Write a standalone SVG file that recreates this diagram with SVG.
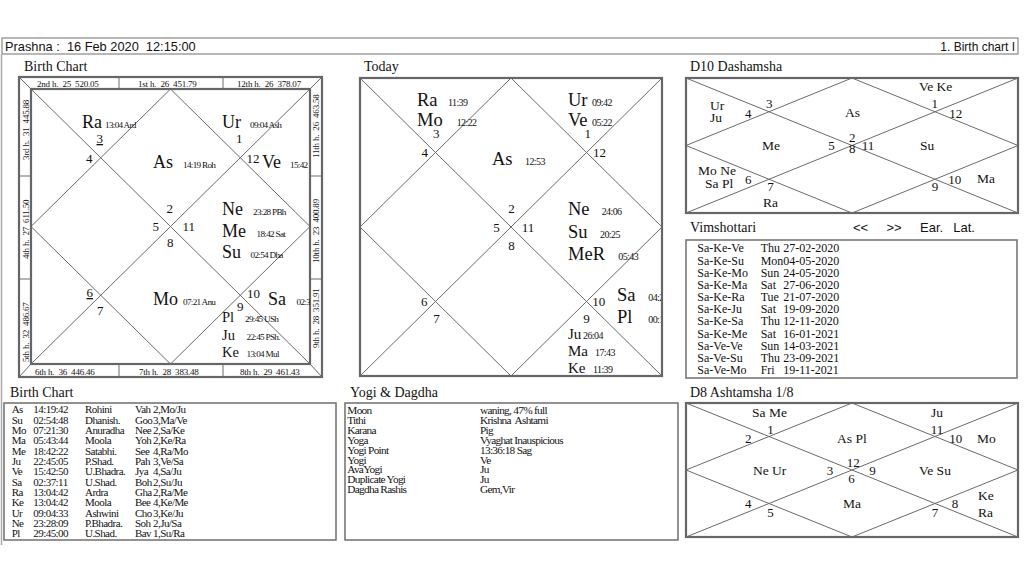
<svg xmlns="http://www.w3.org/2000/svg" width="1024" height="576" viewBox="0 0 1024 576">
<style>
text{font-family:"Liberation Serif","Times New Roman",serif;fill:#111;white-space:pre}
.sans{font-family:"Liberation Sans",Arial,sans-serif}
.title{font-size:14px}
.frame{fill:none;stroke:#666;stroke-width:2.2}
.ln{fill:none;stroke:#6a6a6a;stroke-width:1}
.box{fill:none;stroke:#777;stroke-width:1.6}
.strip{font-size:9px;letter-spacing:-0.2px}
.bp{font-size:18px}
.bpl{font-size:14.5px}
.bs{font-size:9.2px;letter-spacing:-0.7px}
.n{font-size:13px}
.tp{font-size:18.5px}
.tpl{font-size:15px}
.ts{font-size:10px;letter-spacing:-0.6px}
.dp{font-size:13.5px}
.tbl{font-size:11px;letter-spacing:-0.55px}
.yg{font-size:11.3px;letter-spacing:-0.7px}
.vm{font-size:12px}
</style>
<defs>
<clipPath id="cBirth"><rect x="31" y="89" width="279" height="275"/></clipPath>
<clipPath id="cToday"><rect x="360" y="78" width="301" height="298"/></clipPath>
<clipPath id="cTbl"><rect x="4" y="403" width="332" height="137"/></clipPath>
</defs>
<rect width="1024" height="576" fill="#fff"/>

<g id="header">
<rect x="2" y="38" width="1016" height="16" fill="none" stroke="#888" stroke-width="1.2"/>
<line x1="1.5" y1="54" x2="1.5" y2="545" stroke="#aaa" stroke-width="1.5"/>
<text class="sans" x="5" y="50.5" font-size="12.8">Prashna :  16 Feb 2020  12:15:00</text>
<text class="sans" x="1015" y="50.5" font-size="12" text-anchor="end">1. Birth chart I</text>
</g>

<g id="birth-chart">
<text class="title" x="24" y="71">Birth Chart</text>
<rect class="frame" x="19" y="77" width="303" height="300"/>
<rect class="frame" x="31" y="89" width="279" height="275"/>
<g class="ln">
<path d="M19 77L31 89M322 77L310 89M19 377L31 364M322 377L310 364"/>
<path d="M119 77V89M223 77V89M119 364V377M223 364V377M19 176H31M19 279H31M310 176H322M310 279H322"/>
<path d="M31 89L310 364M310 89L31 364M170.5 89L310 226.5L170.5 364L31 226.5Z"/>
</g>
<g class="strip">
<text x="37" y="86.5">2nd h.  25  520.05</text>
<text x="138" y="86.5">1st h.  26  451.79</text>
<text x="237" y="86.5">12th h.  26  378.07</text>
<text x="35" y="374.5">6th h.  36  446.46</text>
<text x="139" y="374.5">7th h.  28  383.48</text>
<text x="240" y="374.5">8th h.  29  461.43</text>
<text transform="translate(28.5,160) rotate(-90)">3rd h.  31  445.88</text>
<text transform="translate(28.5,259) rotate(-90)">4th h.  27  611.50</text>
<text transform="translate(28.5,362) rotate(-90)">5th h.  32  486.67</text>
<text transform="translate(319,158) rotate(-90)">11th h.  26  463.58</text>
<text transform="translate(319,263) rotate(-90)">10th h.  23  400.89</text>
<text transform="translate(319,348) rotate(-90)">9th h.  28  351.91</text>
</g>
<g clip-path="url(#cBirth)">
<text class="bp" x="82" y="128">Ra</text><text class="bs" x="105" y="128">13:04 Ard</text>
<text class="bp" x="222" y="128">Ur</text><text class="bs" x="250" y="128">09:04 Ash</text>
<text class="bp" x="153" y="168">As</text><text class="bs" x="183" y="168">14:19 Roh</text>
<text class="bp" x="262" y="168">Ve</text><text class="bs" x="290" y="168">15:42</text>
<text class="bp" x="222" y="215">Ne</text><text class="bs" x="253" y="215">23:28 PBh</text>
<text class="bp" x="222" y="236.5">Me</text><text class="bs" x="256.5" y="236.5">18:42 Sat</text>
<text class="bp" x="222" y="257.5">Su</text><text class="bs" x="250.5" y="257.5">02:54 Dha</text>
<text class="bp" x="153" y="305">Mo</text><text class="bs" x="183" y="305">07:21 Anu</text>
<text class="bp" x="268" y="305">Sa</text><text class="bs" x="296.5" y="305">02:37</text>
<text class="bpl" x="222" y="322">Pl</text><text class="bs" x="245" y="322">29:45 USh</text>
<text class="bpl" x="222" y="339.5">Ju</text><text class="bs" x="246.5" y="339.5">22:45 PSh.</text>
<text class="bpl" x="222" y="357">Ke</text><text class="bs" x="246.5" y="357">13:04 Mul</text>
<text class="bpl" x="222" y="373.5">Ma</text>
<text class="n" x="96.5" y="143" text-decoration="underline">3</text>
<text class="n" x="236" y="143">1</text>
<text class="n" x="86" y="162.5">4</text>
<text class="n" x="246.5" y="162.5">12</text>
<text class="n" x="166.5" y="213.3">2</text>
<text class="n" x="152.5" y="230.7">5</text>
<text class="n" x="182.5" y="230.7">11</text>
<text class="n" x="167" y="246.7">8</text>
<text class="n" x="86.5" y="297" text-decoration="underline">6</text>
<text class="n" x="97" y="315">7</text>
<text class="n" x="247" y="298">10</text>
<text class="n" x="237" y="311">9</text>
</g>
</g>

<g id="today-chart">
<text class="title" x="364" y="71">Today</text>
<rect class="frame" x="360" y="78" width="302" height="298" stroke-width="2.6"/>
<path class="ln" d="M360 78L662 376M662 78L360 376M511 78L662 227L511 376L360 227Z"/>
<g clip-path="url(#cToday)">
<text class="tp" x="417" y="105.7">Ra</text><text class="ts" x="448" y="105.7">11:39</text>
<text class="tp" x="417" y="125.7">Mo</text><text class="ts" x="456.7" y="125.7">12:22</text>
<text class="tp" x="492" y="165">As</text><text class="ts" x="525" y="165">12:53</text>
<text class="tp" x="568" y="105.7">Ur</text><text class="ts" x="592" y="105.7">09:42</text>
<text class="tp" x="568" y="125.7">Ve</text><text class="ts" x="592" y="125.7">05:22</text>
<text class="tp" x="568" y="215">Ne</text><text class="ts" x="601.7" y="215">24:06</text>
<text class="tp" x="568" y="238.3">Su</text><text class="ts" x="600" y="238.3">20:25</text>
<text class="tp" x="568" y="260">MeR</text><text class="ts" x="618.3" y="260">05:43</text>
<text class="tp" x="617" y="300.7">Sa</text><text class="ts" x="648.3" y="300.7">04:21</text>
<text class="tp" x="617" y="323.3">Pl</text><text class="ts" x="648.3" y="323.3">00:13</text>
<text class="tpl" x="568" y="339.3">Ju</text><text class="ts" x="583" y="339.3">26:04</text>
<text class="tpl" x="568" y="356">Ma</text><text class="ts" x="595" y="356">17:43</text>
<text class="tpl" x="568" y="372.7">Ke</text><text class="ts" x="593" y="372.7">11:39</text>
<text class="n" x="433" y="138.3">3</text>
<text class="n" x="421.5" y="156.7">4</text>
<text class="n" x="584.5" y="138.3">1</text>
<text class="n" x="593" y="157">12</text>
<text class="n" x="508.3" y="212.7">2</text>
<text class="n" x="493.3" y="231.7">5</text>
<text class="n" x="521.7" y="231.7">11</text>
<text class="n" x="508.3" y="250">8</text>
<text class="n" x="421" y="306">6</text>
<text class="n" x="433.3" y="323.3">7</text>
<text class="n" x="592.3" y="306">10</text>
<text class="n" x="583.3" y="323.3">9</text>
</g>
</g>

<g id="d10-chart">
<text class="title" x="690" y="71">D10 Dashamsha</text>
<rect class="frame" x="686" y="78" width="332" height="135"/>
<path class="ln" d="M686 78L1018 213M1018 78L686 213M852 78L1018 145.5L852 213L686 145.5Z"/>
<g class="dp">
<text x="710" y="109.5">Ur</text>
<text x="710" y="121.7">Ju</text>
<text x="845" y="116.7">As</text>
<text x="919" y="91">Ve Ke</text>
<text x="762" y="150.3">Me</text>
<text x="920" y="150.3">Su</text>
<text x="698" y="175.3">Mo Ne</text>
<text x="705" y="188">Sa Pl</text>
<text x="763" y="207">Ra</text>
<text x="977" y="183">Ma</text>
</g>
<g class="n">
<text x="745" y="117.7">4</text>
<text x="766" y="108.3">3</text>
<text x="931.5" y="108.3">1</text>
<text x="949.3" y="117.7">12</text>
<text x="828.3" y="150.3">5</text>
<text x="849" y="141.5">2</text>
<text x="849" y="153">8</text>
<text x="861.7" y="150.3">11</text>
<text x="745" y="184">6</text>
<text x="767.3" y="191">7</text>
<text x="931.7" y="191">9</text>
<text x="948.3" y="184">10</text>
</g>
</g>

<g id="vimshottari">
<text class="title" x="690" y="232">Vimshottari</text>
<text class="sans" x="853" y="232" font-size="13">&lt;&lt;</text>
<text class="sans" x="886.5" y="232" font-size="13">&gt;&gt;</text>
<text class="sans" x="920" y="232" font-size="13">Ear.</text>
<text class="sans" x="953.3" y="232" font-size="13">Lat.</text>
<rect class="box" x="686" y="240" width="331" height="138"/>
<g class="vm">
<text x="697.3" y="252.3">Sa-Ke-Ve</text><text x="760.7" y="252.3">Thu</text><text x="783.3" y="252.3">27-02-2020</text>
<text x="697.3" y="264.5">Sa-Ke-Su</text><text x="760.7" y="264.5">Mon</text><text x="783.3" y="264.5">04-05-2020</text>
<text x="697.3" y="276.6">Sa-Ke-Mo</text><text x="760.7" y="276.6">Sun</text><text x="783.3" y="276.6">24-05-2020</text>
<text x="697.3" y="288.8">Sa-Ke-Ma</text><text x="760.7" y="288.8">Sat</text><text x="783.3" y="288.8">27-06-2020</text>
<text x="697.3" y="301">Sa-Ke-Ra</text><text x="760.7" y="301">Tue</text><text x="783.3" y="301">21-07-2020</text>
<text x="697.3" y="313.2">Sa-Ke-Ju</text><text x="760.7" y="313.2">Sat</text><text x="783.3" y="313.2">19-09-2020</text>
<text x="697.3" y="325.3">Sa-Ke-Sa</text><text x="760.7" y="325.3">Thu</text><text x="783.3" y="325.3">12-11-2020</text>
<text x="697.3" y="337.5">Sa-Ke-Me</text><text x="760.7" y="337.5">Sat</text><text x="783.3" y="337.5">16-01-2021</text>
<text x="697.3" y="349.7">Sa-Ve-Ve</text><text x="760.7" y="349.7">Sun</text><text x="783.3" y="349.7">14-03-2021</text>
<text x="697.3" y="361.8">Sa-Ve-Su</text><text x="760.7" y="361.8">Thu</text><text x="783.3" y="361.8">23-09-2021</text>
<text x="697.3" y="374">Sa-Ve-Mo</text><text x="760.7" y="374">Fri</text><text x="783.3" y="374">19-11-2021</text>
</g>
</g>

<g id="birth-table">
<text class="title" x="10" y="396.7">Birth Chart</text>
<rect class="box" x="4" y="403" width="332" height="137"/>
<g class="tbl" clip-path="url(#cTbl)">
<text x="11.7" y="413.3">As</text><text x="33.3" y="413.3">14:19:42</text><text x="85" y="413.3">Rohini</text><text x="135" y="413.3">Vah</text><text x="153" y="413.3">2,Mo/Ju</text>
<text x="11.7" y="423.6">Su</text><text x="33.3" y="423.6">02:54:48</text><text x="85" y="423.6">Dhanish.</text><text x="135" y="423.6">Goo</text><text x="153" y="423.6">3,Ma/Ve</text>
<text x="11.7" y="434">Mo</text><text x="33.3" y="434">07:21:30</text><text x="85" y="434">Anuradha</text><text x="135" y="434">Nee</text><text x="153" y="434">2,Sa/Ke</text>
<text x="11.7" y="444.3">Ma</text><text x="33.3" y="444.3">05:43:44</text><text x="85" y="444.3">Moola</text><text x="135" y="444.3">Yoh</text><text x="153" y="444.3">2,Ke/Ra</text>
<text x="11.7" y="454.6">Me</text><text x="33.3" y="454.6">18:42:22</text><text x="85" y="454.6">Satabhi.</text><text x="135" y="454.6">See</text><text x="153" y="454.6">4,Ra/Mo</text>
<text x="11.7" y="465">Ju</text><text x="33.3" y="465">22:45:05</text><text x="85" y="465">P.Shad.</text><text x="135" y="465">Pah</text><text x="153" y="465">3,Ve/Sa</text>
<text x="11.7" y="475.3">Ve</text><text x="33.3" y="475.3">15:42:50</text><text x="85" y="475.3">U.Bhadra.</text><text x="135" y="475.3">Jya</text><text x="153" y="475.3">4,Sa/Ju</text>
<text x="11.7" y="485.6">Sa</text><text x="33.3" y="485.6">02:37:11</text><text x="85" y="485.6">U.Shad.</text><text x="135" y="485.6">Boh</text><text x="153" y="485.6">2,Su/Ju</text>
<text x="11.7" y="496">Ra</text><text x="33.3" y="496">13:04:42</text><text x="85" y="496">Ardra</text><text x="135" y="496">Gha</text><text x="153" y="496">2,Ra/Me</text>
<text x="11.7" y="506.3">Ke</text><text x="33.3" y="506.3">13:04:42</text><text x="85" y="506.3">Moola</text><text x="135" y="506.3">Bee</text><text x="153" y="506.3">4,Ke/Me</text>
<text x="11.7" y="516.6">Ur</text><text x="33.3" y="516.6">09:04:33</text><text x="85" y="516.6">Ashwini</text><text x="135" y="516.6">Cho</text><text x="153" y="516.6">3,Ke/Ju</text>
<text x="11.7" y="527">Ne</text><text x="33.3" y="527">23:28:09</text><text x="85" y="527">P.Bhadra.</text><text x="135" y="527">Soh</text><text x="153" y="527">2,Ju/Sa</text>
<text x="11.7" y="537.3">Pl</text><text x="33.3" y="537.3">29:45:00</text><text x="85" y="537.3">U.Shad.</text><text x="135" y="537.3">Bav</text><text x="153" y="537.3">1,Su/Ra</text>
</g>
</g>

<g id="yogi-dagdha">
<text class="title" x="350" y="396.7">Yogi &amp; Dagdha</text>
<rect class="box" x="345" y="403" width="333" height="137"/>
<g class="yg">
<text x="347.3" y="414">Moon</text><text x="480" y="414">waning, 47% full</text>
<text x="347.3" y="423.9">Tithi</text><text x="480" y="423.9">Krishna  Ashtami</text>
<text x="347.3" y="433.8">Karana</text><text x="480" y="433.8">Pig</text>
<text x="347.3" y="443.7">Yoga</text><text x="480" y="443.7">Vyaghat Inauspicious</text>
<text x="347.3" y="453.6">Yogi Point</text><text x="480" y="453.6">13:36:18 Sag</text>
<text x="347.3" y="463.5">Yogi</text><text x="480" y="463.5">Ve</text>
<text x="347.3" y="473.4">AvaYogi</text><text x="480" y="473.4">Ju</text>
<text x="347.3" y="483.3">Duplicate Yogi</text><text x="480" y="483.3">Ju</text>
<text x="347.3" y="493.2">Dagdha Rashis</text><text x="480" y="493.2">Gem,Vir</text>
</g>
</g>

<g id="d8-chart">
<text class="title" x="690" y="396.7">D8 Ashtamsha 1/8</text>
<rect class="frame" x="686" y="403" width="332" height="134"/>
<path class="ln" d="M686 403L1018 537M1018 403L686 537M852 403L1018 470L852 537L686 470Z"/>
<g class="dp">
<text x="752" y="416.7">Sa Me</text>
<text x="931" y="416.7">Ju</text>
<text x="837" y="442.7">As Pl</text>
<text x="977" y="442.7">Mo</text>
<text x="753" y="475">Ne Ur</text>
<text x="919" y="475">Ve Su</text>
<text x="843" y="508.3">Ma</text>
<text x="978" y="500">Ke</text>
<text x="978" y="516.7">Ra</text>
</g>
<g class="n">
<text x="745" y="443">2</text>
<text x="767.3" y="434">1</text>
<text x="930.7" y="434">11</text>
<text x="949.3" y="443">10</text>
<text x="826.7" y="475">3</text>
<text x="846.7" y="467.3">12</text>
<text x="848.3" y="483">6</text>
<text x="869.3" y="475">9</text>
<text x="745" y="508.3">4</text>
<text x="767.3" y="516.7">5</text>
<text x="931.7" y="516.7">7</text>
<text x="951.7" y="508.3">8</text>
</g>
</g>
</svg>
